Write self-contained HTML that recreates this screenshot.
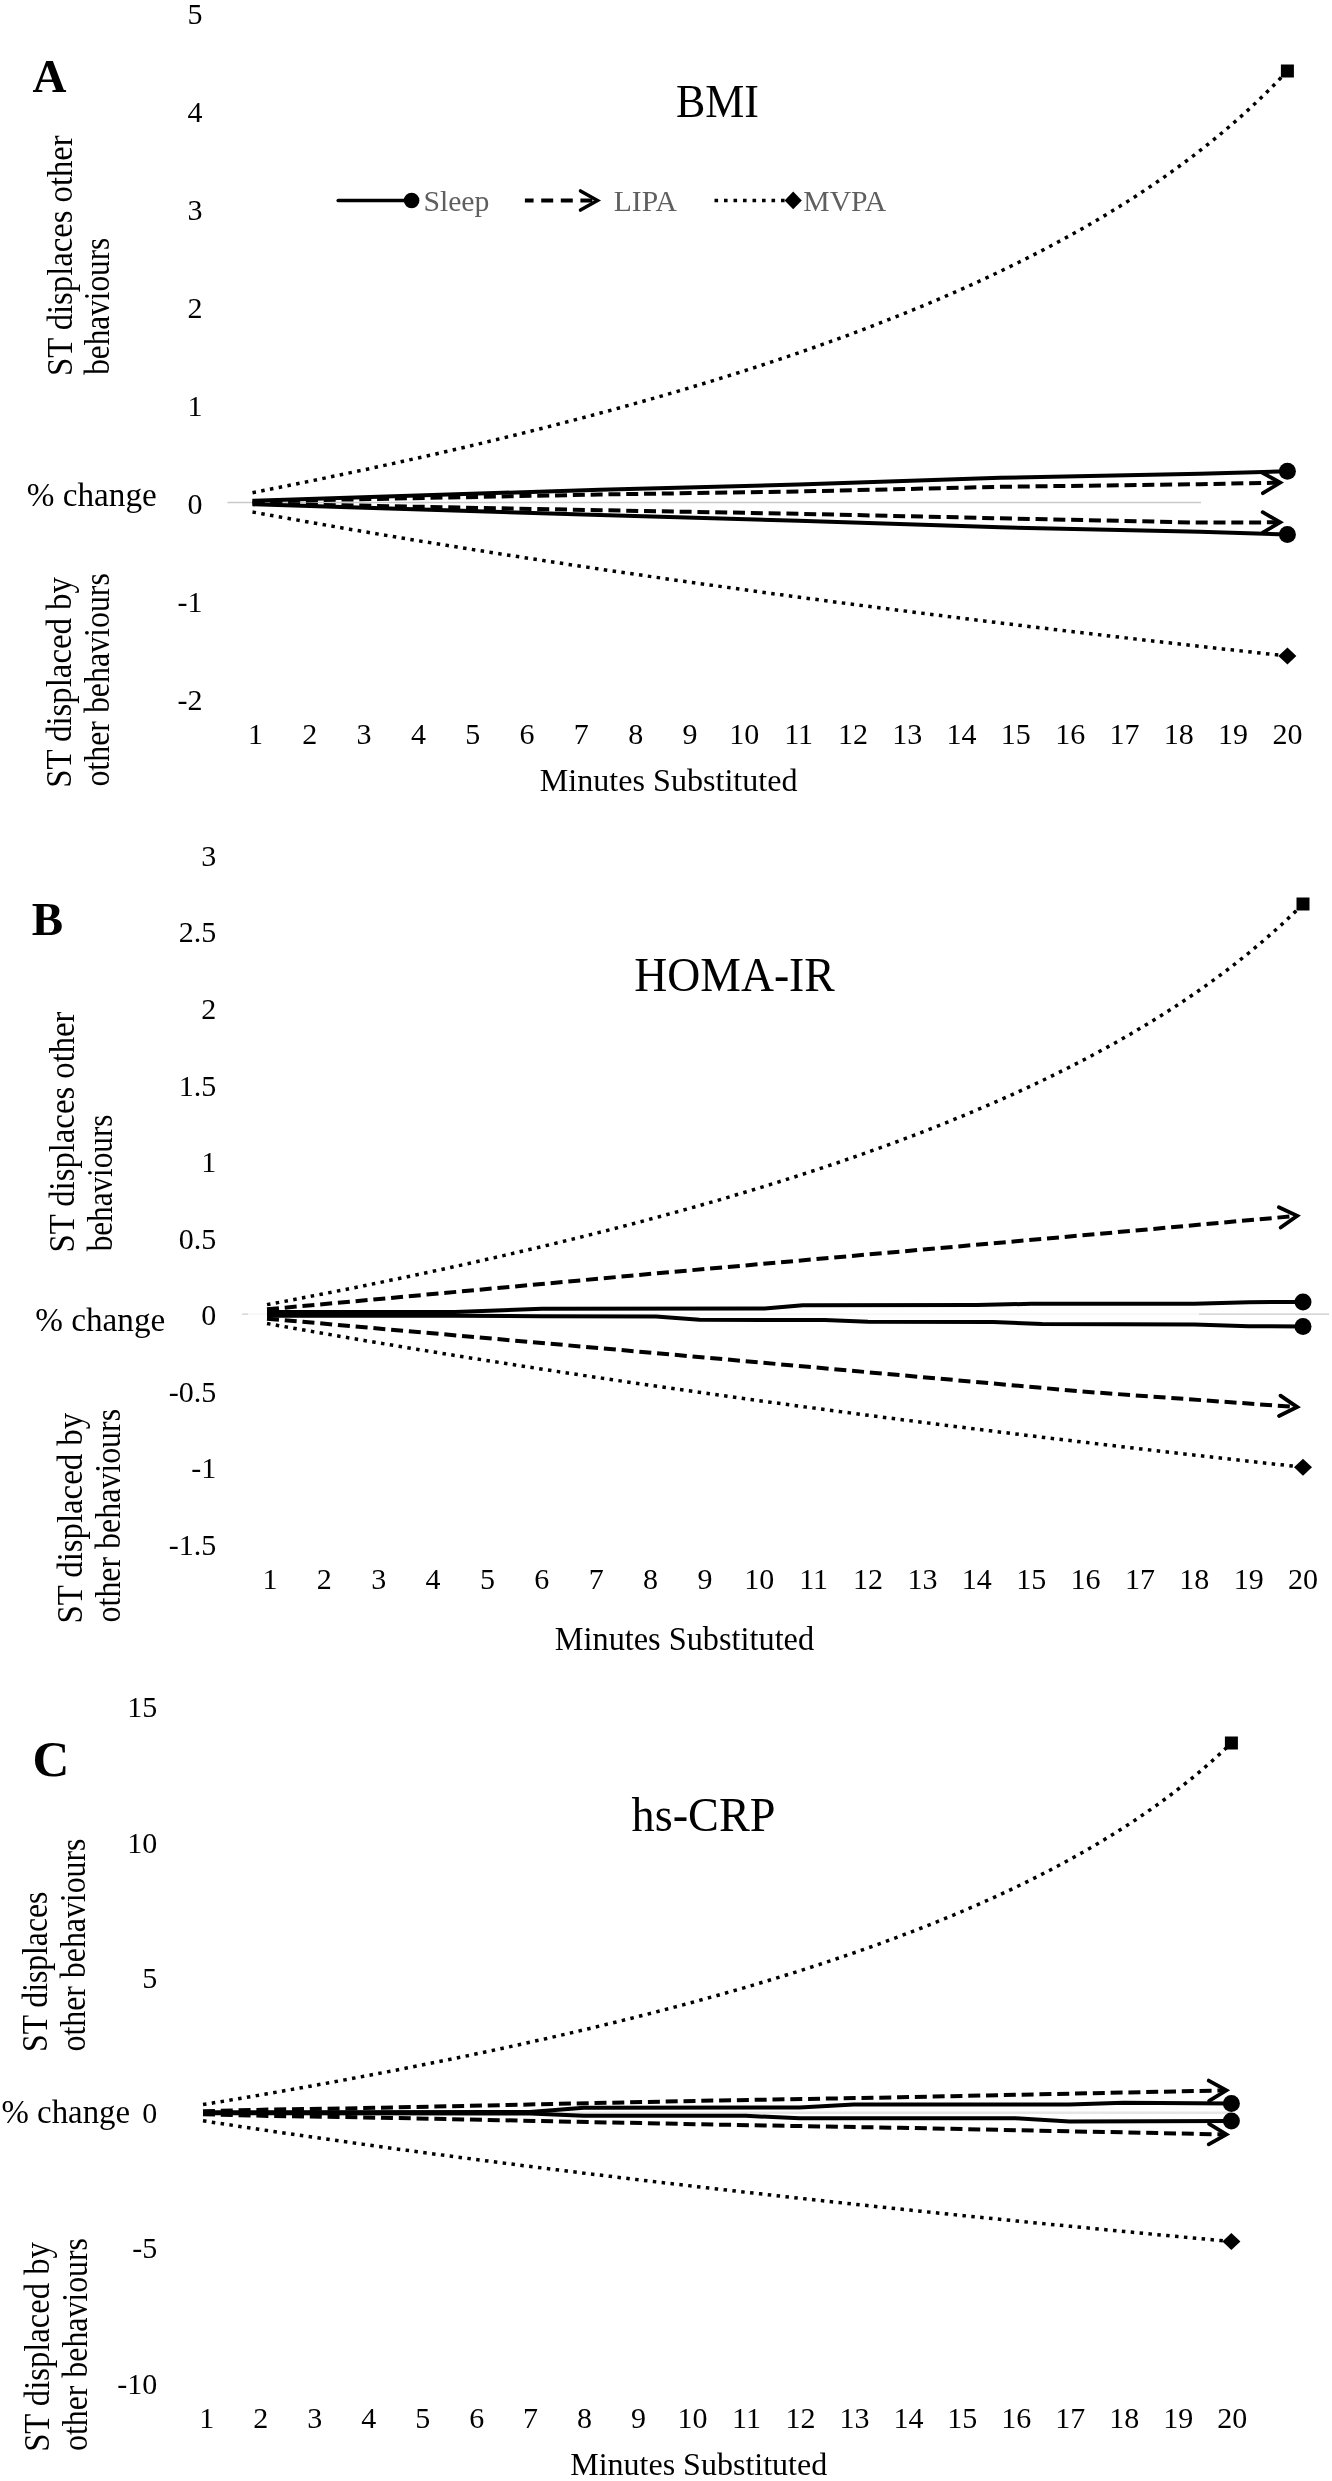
<!DOCTYPE html>
<html><head><meta charset="utf-8"><title>Figure</title>
<style>html,body{margin:0;padding:0;background:#fff}svg{display:block;will-change:transform}text{font-family:"Liberation Serif",serif}</style></head>
<body>
<svg width="1332" height="2481" viewBox="0 0 1332 2481" font-family='"Liberation Serif", serif'>
<rect width="1332" height="2481" fill="#fff"/>
<line x1="227.5" y1="502.50" x2="1201" y2="502.50" stroke="#c9c9c9" stroke-width="1.3"/>
<text x="202.60" y="23.50" font-size="30" text-anchor="end" fill="#000" >5</text>
<text x="202.60" y="121.64" font-size="30" text-anchor="end" fill="#000" >4</text>
<text x="202.60" y="219.78" font-size="30" text-anchor="end" fill="#000" >3</text>
<text x="202.60" y="317.92" font-size="30" text-anchor="end" fill="#000" >2</text>
<text x="202.60" y="416.06" font-size="30" text-anchor="end" fill="#000" >1</text>
<text x="202.60" y="514.20" font-size="30" text-anchor="end" fill="#000" >0</text>
<text x="202.60" y="612.34" font-size="30" text-anchor="end" fill="#000" >-1</text>
<text x="202.60" y="710.48" font-size="30" text-anchor="end" fill="#000" >-2</text>
<text x="255.50" y="743.90" font-size="30" text-anchor="middle" fill="#000" >1</text>
<text x="309.81" y="743.90" font-size="30" text-anchor="middle" fill="#000" >2</text>
<text x="364.12" y="743.90" font-size="30" text-anchor="middle" fill="#000" >3</text>
<text x="418.43" y="743.90" font-size="30" text-anchor="middle" fill="#000" >4</text>
<text x="472.74" y="743.90" font-size="30" text-anchor="middle" fill="#000" >5</text>
<text x="527.05" y="743.90" font-size="30" text-anchor="middle" fill="#000" >6</text>
<text x="581.36" y="743.90" font-size="30" text-anchor="middle" fill="#000" >7</text>
<text x="635.67" y="743.90" font-size="30" text-anchor="middle" fill="#000" >8</text>
<text x="689.98" y="743.90" font-size="30" text-anchor="middle" fill="#000" >9</text>
<text x="744.29" y="743.90" font-size="30" text-anchor="middle" fill="#000" >10</text>
<text x="798.61" y="743.90" font-size="30" text-anchor="middle" fill="#000" >11</text>
<text x="852.92" y="743.90" font-size="30" text-anchor="middle" fill="#000" >12</text>
<text x="907.23" y="743.90" font-size="30" text-anchor="middle" fill="#000" >13</text>
<text x="961.54" y="743.90" font-size="30" text-anchor="middle" fill="#000" >14</text>
<text x="1015.85" y="743.90" font-size="30" text-anchor="middle" fill="#000" >15</text>
<text x="1070.16" y="743.90" font-size="30" text-anchor="middle" fill="#000" >16</text>
<text x="1124.47" y="743.90" font-size="30" text-anchor="middle" fill="#000" >17</text>
<text x="1178.78" y="743.90" font-size="30" text-anchor="middle" fill="#000" >18</text>
<text x="1233.09" y="743.90" font-size="30" text-anchor="middle" fill="#000" >19</text>
<text x="1287.40" y="743.90" font-size="30" text-anchor="middle" fill="#000" >20</text>
<text x="539.80" y="791.20" font-size="32.5" text-anchor="start" fill="#000" textLength="257.70" lengthAdjust="spacingAndGlyphs" >Minutes Substituted</text>
<text x="71.60" y="376.00" font-size="36" text-anchor="start" fill="#000" textLength="240.70" lengthAdjust="spacingAndGlyphs" transform="rotate(-90 71.60 376.00)" >ST displaces other</text>
<text x="109.10" y="374.80" font-size="36" text-anchor="start" fill="#000" textLength="137.00" lengthAdjust="spacingAndGlyphs" transform="rotate(-90 109.10 374.80)" >behaviours</text>
<text x="71.20" y="787.80" font-size="36" text-anchor="start" fill="#000" textLength="210.70" lengthAdjust="spacingAndGlyphs" transform="rotate(-90 71.20 787.80)" >ST displaced by</text>
<text x="109.10" y="786.60" font-size="36" text-anchor="start" fill="#000" textLength="213.50" lengthAdjust="spacingAndGlyphs" transform="rotate(-90 109.10 786.60)" >other behaviours</text>
<text x="26.80" y="506.00" font-size="34" text-anchor="start" fill="#000" textLength="130.00" lengthAdjust="spacingAndGlyphs" >% change</text>
<text x="32.50" y="91.70" font-size="47" text-anchor="start" fill="#000" font-weight="bold" >A</text>
<text x="676.00" y="116.50" font-size="47" text-anchor="start" fill="#000" textLength="83.00" lengthAdjust="spacingAndGlyphs" >BMI</text>
<path d="M252.50,492.66 L263.28,490.54 L274.06,488.40 L284.84,486.25 L295.62,484.07 L306.40,481.88 L317.18,479.67 L327.96,477.44 L338.74,475.18 L349.52,472.91 L360.30,470.61 L371.08,468.30 L381.86,465.96 L392.64,463.60 L403.42,461.21 L414.20,458.81 L424.98,456.38 L435.76,453.92 L446.54,451.45 L457.32,448.94 L468.10,446.41 L478.88,443.86 L489.66,441.27 L500.44,438.66 L511.23,436.03 L522.01,433.36 L532.79,430.67 L543.57,427.94 L554.35,425.19 L565.13,422.40 L575.91,419.58 L586.69,416.74 L597.47,413.85 L608.25,410.94 L619.03,407.98 L629.81,405.00 L640.59,401.97 L651.37,398.91 L662.15,395.81 L672.93,392.67 L683.71,389.49 L694.49,386.27 L705.27,383.01 L716.05,379.70 L726.83,376.35 L737.61,372.96 L748.39,369.51 L759.17,366.02 L769.95,362.47 L780.73,358.88 L791.51,355.23 L802.29,351.53 L813.07,347.77 L823.85,343.96 L834.63,340.08 L845.41,336.14 L856.19,332.14 L866.97,328.07 L877.75,323.94 L888.53,319.73 L899.31,315.46 L910.09,311.10 L920.87,306.67 L931.65,302.16 L942.43,297.56 L953.21,292.88 L963.99,288.11 L974.77,283.24 L985.55,278.28 L996.33,273.21 L1007.11,268.04 L1017.89,262.76 L1028.68,257.36 L1039.46,251.85 L1050.24,246.20 L1061.02,240.43 L1071.80,234.52 L1082.58,228.46 L1093.36,222.25 L1104.14,215.88 L1114.92,209.34 L1125.70,202.63 L1136.48,195.73 L1147.26,188.63 L1158.04,181.32 L1168.82,173.79 L1179.60,166.02 L1190.38,158.00 L1201.16,149.71 L1211.94,141.14 L1222.72,132.25 L1233.50,123.04 L1244.28,113.47 L1255.06,103.52 L1265.84,93.15 L1276.62,82.32 L1287.40,71.00" fill="none" stroke="#000" stroke-width="3.5" stroke-linecap="butt" stroke-linejoin="round" stroke-dasharray="3.5 5.4"/>
<path d="M252.50,512.02 L263.28,513.98 L274.06,515.93 L284.84,517.86 L295.62,519.78 L306.40,521.68 L317.18,523.58 L327.96,525.46 L338.74,527.32 L349.52,529.18 L360.30,531.02 L371.08,532.85 L381.86,534.67 L392.64,536.48 L403.42,538.27 L414.20,540.05 L424.98,541.83 L435.76,543.59 L446.54,545.34 L457.32,547.07 L468.10,548.80 L478.88,550.52 L489.66,552.22 L500.44,553.92 L511.23,555.61 L522.01,557.28 L532.79,558.95 L543.57,560.60 L554.35,562.25 L565.13,563.88 L575.91,565.51 L586.69,567.13 L597.47,568.73 L608.25,570.33 L619.03,571.92 L629.81,573.50 L640.59,575.07 L651.37,576.63 L662.15,578.19 L672.93,579.73 L683.71,581.27 L694.49,582.79 L705.27,584.31 L716.05,585.82 L726.83,587.33 L737.61,588.82 L748.39,590.31 L759.17,591.79 L769.95,593.26 L780.73,594.72 L791.51,596.18 L802.29,597.62 L813.07,599.06 L823.85,600.50 L834.63,601.92 L845.41,603.34 L856.19,604.75 L866.97,606.16 L877.75,607.55 L888.53,608.94 L899.31,610.32 L910.09,611.70 L920.87,613.07 L931.65,614.43 L942.43,615.79 L953.21,617.14 L963.99,618.48 L974.77,619.82 L985.55,621.14 L996.33,622.47 L1007.11,623.79 L1017.89,625.10 L1028.68,626.40 L1039.46,627.70 L1050.24,628.99 L1061.02,630.28 L1071.80,631.56 L1082.58,632.83 L1093.36,634.10 L1104.14,635.37 L1114.92,636.62 L1125.70,637.87 L1136.48,639.12 L1147.26,640.36 L1158.04,641.60 L1168.82,642.82 L1179.60,644.05 L1190.38,645.27 L1201.16,646.48 L1211.94,647.69 L1222.72,648.89 L1233.50,650.09 L1244.28,651.28 L1255.06,652.47 L1265.84,653.65 L1276.62,654.83 L1287.40,656.00" fill="none" stroke="#000" stroke-width="3.5" stroke-linecap="butt" stroke-linejoin="round" stroke-dasharray="3.5 5.4"/>
<path d="M252.50,500.69 L599.83,489.80 L798.61,484.50 L1000.10,477.80 L1199.96,473.70 L1287.40,471.30" fill="none" stroke="#000" stroke-width="4.0" stroke-linecap="butt" stroke-linejoin="round"/>
<path d="M252.50,504.28 L599.83,515.00 L798.61,520.80 L1000.10,527.30 L1199.96,531.80 L1287.40,534.40" fill="none" stroke="#000" stroke-width="4.0" stroke-linecap="butt" stroke-linejoin="round"/>
<path d="M252.50,501.38 L599.83,494.50 L798.61,491.50 L1000.10,486.80 L1199.96,484.20 L1278.70,482.67" fill="none" stroke="#000" stroke-width="4.0" stroke-linecap="butt" stroke-linejoin="round" stroke-dasharray="12 5.8"/>
<path d="M252.50,503.58 L599.83,510.20 L798.61,513.80 L1000.10,518.30 L1199.96,522.60 L1278.70,522.33" fill="none" stroke="#000" stroke-width="4.0" stroke-linecap="butt" stroke-linejoin="round" stroke-dasharray="12 5.8"/>
<path d="M1262.51,472.78 L1280.20,482.64 L1262.90,493.18" fill="none" stroke="#000" stroke-width="3.8" stroke-linecap="round" stroke-linejoin="miter"/>
<path d="M1262.67,512.18 L1280.20,522.32 L1262.74,532.58" fill="none" stroke="#000" stroke-width="3.8" stroke-linecap="round" stroke-linejoin="miter"/>
<rect x="1280.90" y="64.50" width="13" height="13" fill="#000"/>
<path d="M1278.40,656.00 L1287.40,647.50 L1296.40,656.00 L1287.40,664.50 Z" fill="#000"/>
<circle cx="1287.40" cy="471.30" r="8.5" fill="#000"/>
<circle cx="1287.40" cy="534.40" r="8.5" fill="#000"/>
<line x1="242" y1="1314.10" x2="248" y2="1314.10" stroke="#cfcfcf" stroke-width="1.3"/>
<line x1="248" y1="1314.10" x2="1199" y2="1314.10" stroke="#f4f4f4" stroke-width="1.3"/>
<line x1="1199" y1="1314.10" x2="1329" y2="1314.10" stroke="#c9c9c9" stroke-width="1.3"/>
<text x="216.30" y="865.90" font-size="30" text-anchor="end" fill="#000" >3</text>
<text x="216.30" y="942.45" font-size="30" text-anchor="end" fill="#000" >2.5</text>
<text x="216.30" y="1019.00" font-size="30" text-anchor="end" fill="#000" >2</text>
<text x="216.30" y="1095.55" font-size="30" text-anchor="end" fill="#000" >1.5</text>
<text x="216.30" y="1172.10" font-size="30" text-anchor="end" fill="#000" >1</text>
<text x="216.30" y="1248.65" font-size="30" text-anchor="end" fill="#000" >0.5</text>
<text x="216.30" y="1325.20" font-size="30" text-anchor="end" fill="#000" >0</text>
<text x="216.30" y="1401.75" font-size="30" text-anchor="end" fill="#000" >-0.5</text>
<text x="216.30" y="1478.30" font-size="30" text-anchor="end" fill="#000" >-1</text>
<text x="216.30" y="1554.85" font-size="30" text-anchor="end" fill="#000" >-1.5</text>
<text x="270.00" y="1589.40" font-size="30" text-anchor="middle" fill="#000" >1</text>
<text x="324.37" y="1589.40" font-size="30" text-anchor="middle" fill="#000" >2</text>
<text x="378.74" y="1589.40" font-size="30" text-anchor="middle" fill="#000" >3</text>
<text x="433.11" y="1589.40" font-size="30" text-anchor="middle" fill="#000" >4</text>
<text x="487.47" y="1589.40" font-size="30" text-anchor="middle" fill="#000" >5</text>
<text x="541.84" y="1589.40" font-size="30" text-anchor="middle" fill="#000" >6</text>
<text x="596.21" y="1589.40" font-size="30" text-anchor="middle" fill="#000" >7</text>
<text x="650.58" y="1589.40" font-size="30" text-anchor="middle" fill="#000" >8</text>
<text x="704.95" y="1589.40" font-size="30" text-anchor="middle" fill="#000" >9</text>
<text x="759.32" y="1589.40" font-size="30" text-anchor="middle" fill="#000" >10</text>
<text x="813.68" y="1589.40" font-size="30" text-anchor="middle" fill="#000" >11</text>
<text x="868.05" y="1589.40" font-size="30" text-anchor="middle" fill="#000" >12</text>
<text x="922.42" y="1589.40" font-size="30" text-anchor="middle" fill="#000" >13</text>
<text x="976.79" y="1589.40" font-size="30" text-anchor="middle" fill="#000" >14</text>
<text x="1031.16" y="1589.40" font-size="30" text-anchor="middle" fill="#000" >15</text>
<text x="1085.53" y="1589.40" font-size="30" text-anchor="middle" fill="#000" >16</text>
<text x="1139.89" y="1589.40" font-size="30" text-anchor="middle" fill="#000" >17</text>
<text x="1194.26" y="1589.40" font-size="30" text-anchor="middle" fill="#000" >18</text>
<text x="1248.63" y="1589.40" font-size="30" text-anchor="middle" fill="#000" >19</text>
<text x="1303.00" y="1589.40" font-size="30" text-anchor="middle" fill="#000" >20</text>
<text x="554.80" y="1650.20" font-size="33" text-anchor="start" fill="#000" textLength="259.30" lengthAdjust="spacingAndGlyphs" >Minutes Substituted</text>
<text x="74.00" y="1252.50" font-size="36" text-anchor="start" fill="#000" textLength="241.00" lengthAdjust="spacingAndGlyphs" transform="rotate(-90 74.00 1252.50)" >ST displaces other</text>
<text x="111.90" y="1251.30" font-size="36" text-anchor="start" fill="#000" textLength="136.70" lengthAdjust="spacingAndGlyphs" transform="rotate(-90 111.90 1251.30)" >behaviours</text>
<text x="82.50" y="1623.60" font-size="36" text-anchor="start" fill="#000" textLength="210.70" lengthAdjust="spacingAndGlyphs" transform="rotate(-90 82.50 1623.60)" >ST displaced by</text>
<text x="120.30" y="1622.40" font-size="36" text-anchor="start" fill="#000" textLength="213.50" lengthAdjust="spacingAndGlyphs" transform="rotate(-90 120.30 1622.40)" >other behaviours</text>
<text x="35.30" y="1330.80" font-size="34" text-anchor="start" fill="#000" textLength="130.00" lengthAdjust="spacingAndGlyphs" >% change</text>
<text x="31.80" y="935.00" font-size="47" text-anchor="start" fill="#000" font-weight="bold" >B</text>
<text x="634.30" y="990.70" font-size="48" text-anchor="start" fill="#000" textLength="200.50" lengthAdjust="spacingAndGlyphs" >HOMA-IR</text>
<path d="M267.00,1304.65 L277.79,1302.62 L288.58,1300.57 L299.38,1298.50 L310.17,1296.41 L320.96,1294.31 L331.75,1292.18 L342.54,1290.04 L353.33,1287.88 L364.12,1285.70 L374.92,1283.50 L385.71,1281.27 L396.50,1279.03 L407.29,1276.77 L418.08,1274.48 L428.88,1272.17 L439.67,1269.84 L450.46,1267.49 L461.25,1265.11 L472.04,1262.71 L482.83,1260.29 L493.62,1257.84 L504.42,1255.36 L515.21,1252.86 L526.00,1250.33 L536.79,1247.78 L547.58,1245.19 L558.38,1242.58 L569.17,1239.95 L579.96,1237.28 L590.75,1234.58 L601.54,1231.85 L612.33,1229.09 L623.12,1226.29 L633.92,1223.47 L644.71,1220.61 L655.50,1217.71 L666.29,1214.78 L677.08,1211.82 L687.88,1208.81 L698.67,1205.77 L709.46,1202.69 L720.25,1199.57 L731.04,1196.41 L741.83,1193.20 L752.62,1189.95 L763.42,1186.66 L774.21,1183.32 L785.00,1179.93 L795.79,1176.50 L806.58,1173.01 L817.38,1169.47 L828.17,1165.88 L838.96,1162.24 L849.75,1158.54 L860.54,1154.78 L871.33,1150.96 L882.13,1147.08 L892.92,1143.13 L903.71,1139.12 L914.50,1135.04 L925.29,1130.89 L936.08,1126.67 L946.88,1122.37 L957.67,1117.99 L968.46,1113.53 L979.25,1108.98 L990.04,1104.35 L1000.83,1099.62 L1011.63,1094.80 L1022.42,1089.89 L1033.21,1084.86 L1044.00,1079.73 L1054.79,1074.49 L1065.58,1069.13 L1076.38,1063.65 L1087.17,1058.03 L1097.96,1052.29 L1108.75,1046.40 L1119.54,1040.36 L1130.33,1034.17 L1141.12,1027.81 L1151.92,1021.28 L1162.71,1014.57 L1173.50,1007.66 L1184.29,1000.54 L1195.08,993.21 L1205.88,985.65 L1216.67,977.83 L1227.46,969.76 L1238.25,961.40 L1249.04,952.74 L1259.83,943.76 L1270.62,934.42 L1281.42,924.70 L1292.21,914.58 L1303.00,904.00" fill="none" stroke="#000" stroke-width="3.5" stroke-linecap="butt" stroke-linejoin="round" stroke-dasharray="3.5 5.4"/>
<path d="M267.00,1323.49 L277.79,1325.42 L288.58,1327.34 L299.38,1329.25 L310.17,1331.15 L320.96,1333.03 L331.75,1334.90 L342.54,1336.76 L353.33,1338.61 L364.12,1340.44 L374.92,1342.27 L385.71,1344.08 L396.50,1345.88 L407.29,1347.67 L418.08,1349.45 L428.88,1351.21 L439.67,1352.97 L450.46,1354.72 L461.25,1356.45 L472.04,1358.18 L482.83,1359.90 L493.62,1361.60 L504.42,1363.30 L515.21,1364.98 L526.00,1366.66 L536.79,1368.32 L547.58,1369.98 L558.38,1371.63 L569.17,1373.26 L579.96,1374.89 L590.75,1376.51 L601.54,1378.12 L612.33,1379.72 L623.12,1381.31 L633.92,1382.90 L644.71,1384.47 L655.50,1386.04 L666.29,1387.60 L677.08,1389.15 L687.88,1390.69 L698.67,1392.22 L709.46,1393.75 L720.25,1395.26 L731.04,1396.77 L741.83,1398.27 L752.62,1399.77 L763.42,1401.25 L774.21,1402.73 L785.00,1404.20 L795.79,1405.66 L806.58,1407.12 L817.38,1408.57 L828.17,1410.01 L838.96,1411.44 L849.75,1412.87 L860.54,1414.29 L871.33,1415.70 L882.13,1417.11 L892.92,1418.51 L903.71,1419.90 L914.50,1421.29 L925.29,1422.67 L936.08,1424.04 L946.88,1425.40 L957.67,1426.76 L968.46,1428.12 L979.25,1429.46 L990.04,1430.80 L1000.83,1432.14 L1011.63,1433.47 L1022.42,1434.79 L1033.21,1436.11 L1044.00,1437.42 L1054.79,1438.72 L1065.58,1440.02 L1076.38,1441.31 L1087.17,1442.60 L1097.96,1443.88 L1108.75,1445.16 L1119.54,1446.43 L1130.33,1447.69 L1141.12,1448.95 L1151.92,1450.20 L1162.71,1451.45 L1173.50,1452.69 L1184.29,1453.93 L1195.08,1455.16 L1205.88,1456.39 L1216.67,1457.61 L1227.46,1458.83 L1238.25,1460.04 L1249.04,1461.24 L1259.83,1462.44 L1270.62,1463.64 L1281.42,1464.83 L1292.21,1466.02 L1303.00,1467.20" fill="none" stroke="#000" stroke-width="3.5" stroke-linecap="butt" stroke-linejoin="round" stroke-dasharray="3.5 5.4"/>
<path d="M267.00,1312.10 L454.85,1311.90 L541.84,1308.80 L764.75,1308.60 L802.81,1305.20 L976.79,1305.00 L1031.16,1303.80 L1194.26,1303.80 L1248.63,1302.20 L1303.00,1302.00" fill="none" stroke="#000" stroke-width="4.0" stroke-linecap="butt" stroke-linejoin="round"/>
<path d="M267.00,1315.80 L454.85,1315.80 L541.84,1316.20 L656.02,1316.40 L699.51,1319.80 L824.56,1320.00 L868.05,1321.80 L993.10,1322.00 L1042.03,1324.00 L1194.26,1324.50 L1248.63,1326.30 L1303.00,1326.40" fill="none" stroke="#000" stroke-width="4.0" stroke-linecap="butt" stroke-linejoin="round"/>
<path d="M267.00,1309.35 L665.80,1272.50 L1081.72,1235.40 L1295.70,1215.96" fill="none" stroke="#000" stroke-width="4.0" stroke-linecap="butt" stroke-linejoin="round" stroke-dasharray="12 5.8"/>
<path d="M267.00,1318.65 L665.80,1354.00 L1081.72,1391.50 L1295.70,1406.97" fill="none" stroke="#000" stroke-width="4.0" stroke-linecap="butt" stroke-linejoin="round" stroke-dasharray="12 5.8"/>
<path d="M1278.85,1207.25 L1297.20,1215.83 L1280.69,1227.57" fill="none" stroke="#000" stroke-width="3.8" stroke-linecap="round" stroke-linejoin="miter"/>
<path d="M1280.48,1395.65 L1297.20,1407.08 L1279.01,1415.99" fill="none" stroke="#000" stroke-width="3.8" stroke-linecap="round" stroke-linejoin="miter"/>
<rect x="1296.50" y="897.50" width="13" height="13" fill="#000"/>
<path d="M1294.00,1467.20 L1303.00,1458.70 L1312.00,1467.20 L1303.00,1475.70 Z" fill="#000"/>
<circle cx="1303.00" cy="1302.00" r="8.5" fill="#000"/>
<circle cx="1303.00" cy="1326.40" r="8.5" fill="#000"/>
<line x1="206" y1="2112.80" x2="1231" y2="2112.80" stroke="#e6e6e6" stroke-width="2.5"/>
<text x="157.30" y="1717.20" font-size="30" text-anchor="end" fill="#000" >15</text>
<text x="157.30" y="1852.50" font-size="30" text-anchor="end" fill="#000" >10</text>
<text x="157.30" y="1987.80" font-size="30" text-anchor="end" fill="#000" >5</text>
<text x="157.30" y="2123.10" font-size="30" text-anchor="end" fill="#000" >0</text>
<text x="157.30" y="2258.40" font-size="30" text-anchor="end" fill="#000" >-5</text>
<text x="157.30" y="2393.70" font-size="30" text-anchor="end" fill="#000" >-10</text>
<text x="206.80" y="2427.70" font-size="30" text-anchor="middle" fill="#000" >1</text>
<text x="260.77" y="2427.70" font-size="30" text-anchor="middle" fill="#000" >2</text>
<text x="314.74" y="2427.70" font-size="30" text-anchor="middle" fill="#000" >3</text>
<text x="368.71" y="2427.70" font-size="30" text-anchor="middle" fill="#000" >4</text>
<text x="422.67" y="2427.70" font-size="30" text-anchor="middle" fill="#000" >5</text>
<text x="476.64" y="2427.70" font-size="30" text-anchor="middle" fill="#000" >6</text>
<text x="530.61" y="2427.70" font-size="30" text-anchor="middle" fill="#000" >7</text>
<text x="584.58" y="2427.70" font-size="30" text-anchor="middle" fill="#000" >8</text>
<text x="638.55" y="2427.70" font-size="30" text-anchor="middle" fill="#000" >9</text>
<text x="692.52" y="2427.70" font-size="30" text-anchor="middle" fill="#000" >10</text>
<text x="746.48" y="2427.70" font-size="30" text-anchor="middle" fill="#000" >11</text>
<text x="800.45" y="2427.70" font-size="30" text-anchor="middle" fill="#000" >12</text>
<text x="854.42" y="2427.70" font-size="30" text-anchor="middle" fill="#000" >13</text>
<text x="908.39" y="2427.70" font-size="30" text-anchor="middle" fill="#000" >14</text>
<text x="962.36" y="2427.70" font-size="30" text-anchor="middle" fill="#000" >15</text>
<text x="1016.33" y="2427.70" font-size="30" text-anchor="middle" fill="#000" >16</text>
<text x="1070.29" y="2427.70" font-size="30" text-anchor="middle" fill="#000" >17</text>
<text x="1124.26" y="2427.70" font-size="30" text-anchor="middle" fill="#000" >18</text>
<text x="1178.23" y="2427.70" font-size="30" text-anchor="middle" fill="#000" >19</text>
<text x="1232.20" y="2427.70" font-size="30" text-anchor="middle" fill="#000" >20</text>
<text x="570.20" y="2474.60" font-size="32.5" text-anchor="start" fill="#000" textLength="257.00" lengthAdjust="spacingAndGlyphs" >Minutes Substituted</text>
<text x="47.40" y="2051.90" font-size="36" text-anchor="start" fill="#000" textLength="160.20" lengthAdjust="spacingAndGlyphs" transform="rotate(-90 47.40 2051.90)" >ST displaces</text>
<text x="85.30" y="2051.50" font-size="36" text-anchor="start" fill="#000" textLength="213.00" lengthAdjust="spacingAndGlyphs" transform="rotate(-90 85.30 2051.50)" >other behaviours</text>
<text x="49.20" y="2451.80" font-size="36" text-anchor="start" fill="#000" textLength="209.70" lengthAdjust="spacingAndGlyphs" transform="rotate(-90 49.20 2451.80)" >ST displaced by</text>
<text x="87.10" y="2451.00" font-size="36" text-anchor="start" fill="#000" textLength="213.00" lengthAdjust="spacingAndGlyphs" transform="rotate(-90 87.10 2451.00)" >other behaviours</text>
<text x="1.50" y="2122.80" font-size="34" text-anchor="start" fill="#000" textLength="128.60" lengthAdjust="spacingAndGlyphs" >% change</text>
<text x="32.60" y="1775.90" font-size="51" text-anchor="start" fill="#000" font-weight="bold" >C</text>
<text x="631.50" y="1831.00" font-size="47.5" text-anchor="start" fill="#000" textLength="144.00" lengthAdjust="spacingAndGlyphs" >hs-CRP</text>
<path d="M203.00,2104.60 L213.71,2102.83 L224.43,2101.05 L235.14,2099.25 L245.85,2097.43 L256.56,2095.60 L267.28,2093.76 L277.99,2091.89 L288.70,2090.01 L299.41,2088.11 L310.12,2086.19 L320.84,2084.26 L331.55,2082.31 L342.26,2080.33 L352.98,2078.34 L363.69,2076.33 L374.40,2074.30 L385.11,2072.24 L395.82,2070.17 L406.54,2068.07 L417.25,2065.96 L427.96,2063.82 L438.68,2061.66 L449.39,2059.47 L460.10,2057.26 L470.81,2055.03 L481.53,2052.77 L492.24,2050.49 L502.95,2048.18 L513.66,2045.84 L524.38,2043.48 L535.09,2041.09 L545.80,2038.67 L556.51,2036.22 L567.23,2033.74 L577.94,2031.23 L588.65,2028.69 L599.36,2026.12 L610.08,2023.52 L620.79,2020.88 L631.50,2018.20 L642.21,2015.49 L652.93,2012.75 L663.64,2009.96 L674.35,2007.14 L685.06,2004.28 L695.78,2001.37 L706.49,1998.43 L717.20,1995.44 L727.91,1992.41 L738.63,1989.33 L749.34,1986.20 L760.05,1983.02 L770.76,1979.80 L781.48,1976.52 L792.19,1973.19 L802.90,1969.80 L813.61,1966.36 L824.33,1962.85 L835.04,1959.29 L845.75,1955.66 L856.46,1951.96 L867.18,1948.20 L877.89,1944.36 L888.60,1940.45 L899.31,1936.47 L910.02,1932.40 L920.74,1928.25 L931.45,1924.02 L942.16,1919.69 L952.88,1915.27 L963.59,1910.76 L974.30,1906.14 L985.01,1901.41 L995.73,1896.57 L1006.44,1891.61 L1017.15,1886.53 L1027.86,1881.32 L1038.58,1875.97 L1049.29,1870.47 L1060.00,1864.82 L1070.71,1859.02 L1081.43,1853.04 L1092.14,1846.87 L1102.85,1840.52 L1113.56,1833.96 L1124.28,1827.18 L1134.99,1820.17 L1145.70,1812.91 L1156.41,1805.38 L1167.13,1797.56 L1177.84,1789.42 L1188.55,1780.95 L1199.26,1772.10 L1209.97,1762.86 L1220.69,1753.17 L1231.40,1743.00" fill="none" stroke="#000" stroke-width="3.5" stroke-linecap="butt" stroke-linejoin="round" stroke-dasharray="3.5 5.4"/>
<path d="M203.00,2120.80 L213.71,2122.45 L224.43,2124.09 L235.14,2125.71 L245.85,2127.32 L256.56,2128.93 L267.28,2130.52 L277.99,2132.10 L288.70,2133.66 L299.41,2135.22 L310.12,2136.77 L320.84,2138.31 L331.55,2139.83 L342.26,2141.35 L352.98,2142.86 L363.69,2144.36 L374.40,2145.84 L385.11,2147.32 L395.82,2148.79 L406.54,2150.25 L417.25,2151.70 L427.96,2153.14 L438.68,2154.57 L449.39,2156.00 L460.10,2157.41 L470.81,2158.82 L481.53,2160.21 L492.24,2161.60 L502.95,2162.98 L513.66,2164.35 L524.38,2165.72 L535.09,2167.07 L545.80,2168.42 L556.51,2169.76 L567.23,2171.09 L577.94,2172.42 L588.65,2173.74 L599.36,2175.05 L610.08,2176.35 L620.79,2177.64 L631.50,2178.93 L642.21,2180.21 L652.93,2181.48 L663.64,2182.75 L674.35,2184.01 L685.06,2185.26 L695.78,2186.51 L706.49,2187.75 L717.20,2188.98 L727.91,2190.21 L738.63,2191.43 L749.34,2192.64 L760.05,2193.85 L770.76,2195.05 L781.48,2196.24 L792.19,2197.43 L802.90,2198.61 L813.61,2199.79 L824.33,2200.96 L835.04,2202.12 L845.75,2203.28 L856.46,2204.43 L867.18,2205.58 L877.89,2206.72 L888.60,2207.85 L899.31,2208.98 L910.02,2210.11 L920.74,2211.22 L931.45,2212.34 L942.16,2213.44 L952.88,2214.55 L963.59,2215.64 L974.30,2216.74 L985.01,2217.82 L995.73,2218.90 L1006.44,2219.98 L1017.15,2221.05 L1027.86,2222.12 L1038.58,2223.18 L1049.29,2224.24 L1060.00,2225.29 L1070.71,2226.34 L1081.43,2227.38 L1092.14,2228.42 L1102.85,2229.45 L1113.56,2230.48 L1124.28,2231.50 L1134.99,2232.52 L1145.70,2233.54 L1156.41,2234.55 L1167.13,2235.55 L1177.84,2236.56 L1188.55,2237.55 L1199.26,2238.55 L1209.97,2239.54 L1220.69,2240.52 L1231.40,2241.50" fill="none" stroke="#000" stroke-width="3.5" stroke-linecap="butt" stroke-linejoin="round" stroke-dasharray="3.5 5.4"/>
<path d="M203.00,2111.28 L268.06,2109.60 L344.70,2108.50 L699.81,2100.80 L900.03,2097.30 L1224.90,2090.44" fill="none" stroke="#000" stroke-width="4.0" stroke-linecap="butt" stroke-linejoin="round" stroke-dasharray="12 5.8"/>
<path d="M203.00,2114.27 L268.06,2115.90 L344.70,2117.00 L699.81,2124.30 L900.03,2127.80 L1224.90,2134.47" fill="none" stroke="#000" stroke-width="4.0" stroke-linecap="butt" stroke-linejoin="round" stroke-dasharray="12 5.8"/>
<path d="M1208.69,2080.58 L1226.40,2090.41 L1209.12,2100.97" fill="none" stroke="#000" stroke-width="3.8" stroke-linecap="round" stroke-linejoin="miter"/>
<path d="M1209.11,2123.94 L1226.40,2134.50 L1208.69,2144.34" fill="none" stroke="#000" stroke-width="3.8" stroke-linecap="round" stroke-linejoin="miter"/>
<path d="M206.00,2112.30 L529.81,2112.00 L583.78,2107.80 L799.65,2107.50 L853.62,2104.50 L1069.49,2104.50 L1123.46,2102.80 L1231.40,2103.40" fill="none" stroke="#000" stroke-width="4.0" stroke-linecap="butt" stroke-linejoin="round"/>
<path d="M206.00,2113.20 L529.81,2113.50 L583.78,2115.80 L745.68,2115.80 L799.65,2118.30 L1015.53,2118.30 L1069.49,2121.40 L1231.40,2121.10" fill="none" stroke="#000" stroke-width="4.0" stroke-linecap="butt" stroke-linejoin="round"/>
<rect x="1224.90" y="1736.50" width="13" height="13" fill="#000"/>
<path d="M1222.40,2241.50 L1231.40,2233.00 L1240.40,2241.50 L1231.40,2250.00 Z" fill="#000"/>
<circle cx="1231.40" cy="2103.40" r="8.5" fill="#000"/>
<circle cx="1231.40" cy="2121.10" r="8.5" fill="#000"/>
<path d="M338.30,200.50 L410.00,200.50" fill="none" stroke="#000" stroke-width="3.7" stroke-linecap="round" stroke-linejoin="round"/>
<circle cx="411.60" cy="200.50" r="7.8" fill="#000"/>
<text x="423.40" y="210.80" font-size="29" text-anchor="start" fill="#5f5f5f" textLength="66.00" lengthAdjust="spacingAndGlyphs" >Sleep</text>
<path d="M524.9,200.5 L594,200.5" fill="none" stroke="#000" stroke-width="4" stroke-dasharray="12 7.6" stroke-dashoffset="3.3"/>
<path d="M580.50,190.90 L597.50,200.50 L580.50,210.10" fill="none" stroke="#000" stroke-width="3.5" stroke-linecap="round" stroke-linejoin="miter"/>
<text x="613.80" y="211.20" font-size="28.5" text-anchor="start" fill="#5f5f5f" textLength="63.00" lengthAdjust="spacingAndGlyphs" >LIPA</text>
<path d="M714.50,200.50 L788.00,200.50" fill="none" stroke="#000" stroke-width="3.6" stroke-linecap="butt" stroke-linejoin="round" stroke-dasharray="3.6 5.9"/>
<path d="M784.60,200.40 L793.20,191.60 L801.80,200.40 L793.20,209.20 Z" fill="#000"/>
<text x="803.30" y="211.20" font-size="28.5" text-anchor="start" fill="#5f5f5f" textLength="83.00" lengthAdjust="spacingAndGlyphs" >MVPA</text>
</svg>
</body></html>
